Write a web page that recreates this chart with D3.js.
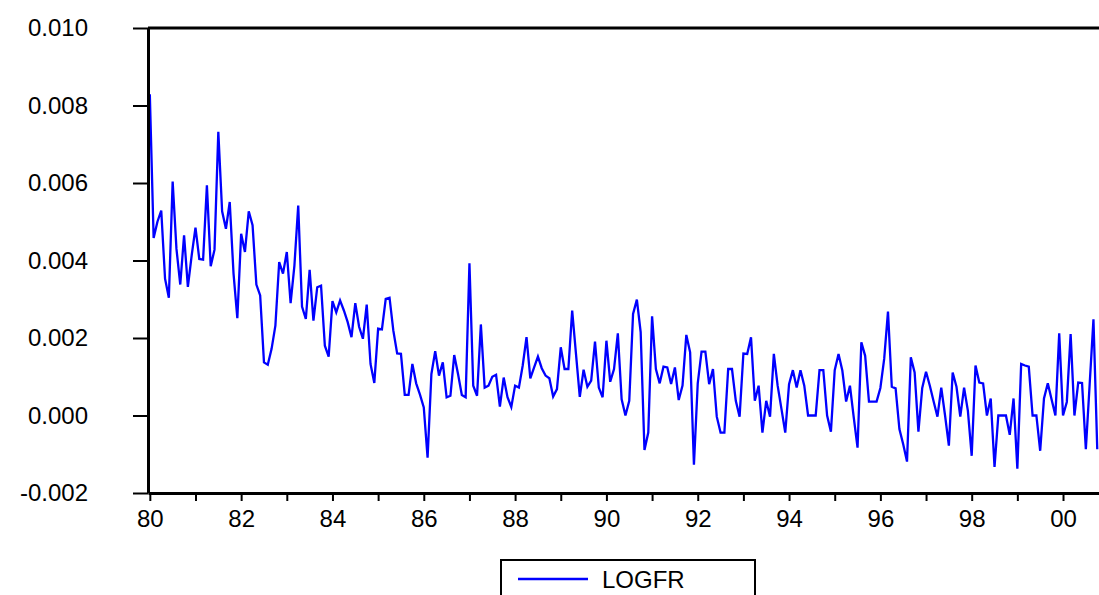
<!DOCTYPE html>
<html>
<head>
<meta charset="utf-8">
<script src="https://cdn.jsdelivr.net/npm/d3@7"></script>
<style>
  body { margin: 0; background: #fff; }
  svg { display: block; font-family: "Liberation Sans", Arial, sans-serif; }
</style>
</head>
<body>
<div id="chart-area"></div>
<script>
// monthly series, starting January 1980
let startYear = 1980;
let seriesName = "LOGFR";
let logfr = [
  0.00829, 0.00458, 0.00500, 0.00529, 0.00353, 0.00304, 0.00604, 0.00430, 0.00338, 0.00465, 0.00332, 0.00413,
  0.00485, 0.00404, 0.00402, 0.00594, 0.00385, 0.00428, 0.00732, 0.00527, 0.00482, 0.00551, 0.00366, 0.00251,
  0.00469, 0.00422, 0.00527, 0.00491, 0.00338, 0.00310, 0.00137, 0.00131, 0.00172, 0.00232, 0.00396, 0.00366,
  0.00422, 0.00290, 0.00387, 0.00542, 0.00281, 0.00249, 0.00376, 0.00245, 0.00331, 0.00335, 0.00180, 0.00152,
  0.00295, 0.00266, 0.00297, 0.00271, 0.00241, 0.00202, 0.00290, 0.00229, 0.00198, 0.00286, 0.00133, 0.00084,
  0.00224, 0.00222, 0.00301, 0.00304, 0.00219, 0.00160, 0.00159, 0.00053, 0.00053, 0.00133, 0.00083, 0.00054,
  0.00021, -0.00109, 0.00107, 0.00166, 0.00103, 0.00137, 0.00047, 0.00051, 0.00156, 0.00107, 0.00053, 0.00047,
  0.00393, 0.00077, 0.00051, 0.00235, 0.00072, 0.00077, 0.00100, 0.00105, 0.00023, 0.00098, 0.00047, 0.00022,
  0.00077, 0.00072, 0.00129, 0.00202, 0.00096, 0.00124, 0.00152, 0.00122, 0.00103, 0.00096, 0.00049, 0.00068,
  0.00176, 0.00120, 0.00120, 0.00271, 0.00159, 0.00048, 0.00118, 0.00074, 0.00090, 0.00191, 0.00072, 0.00047,
  0.00193, 0.00087, 0.00120, 0.00212, 0.00042, 0.00000, 0.00038, 0.00262, 0.00299, 0.00215, -0.00089, -0.00044,
  0.00256, 0.00120, 0.00083, 0.00126, 0.00124, 0.00081, 0.00124, 0.00040, 0.00077, 0.00208, 0.00163, -0.00127,
  0.00083, 0.00165, 0.00165, 0.00081, 0.00120, -0.00003, -0.00044, -0.00044, 0.00120, 0.00120, 0.00038, -0.00003,
  0.00160, 0.00159, 0.00202, 0.00038, 0.00077, -0.00044, 0.00038, -0.00003, 0.00159, 0.00077, 0.00017, -0.00044,
  0.00081, 0.00117, 0.00072, 0.00117, 0.00077, 0.00000, 0.00000, 0.00000, 0.00117, 0.00117, 0.00000, -0.00042,
  0.00117, 0.00159, 0.00116, 0.00036, 0.00077, -0.00005, -0.00083, 0.00189, 0.00154, 0.00036, 0.00036, 0.00036,
  0.00071, 0.00146, 0.00268, 0.00074, 0.00070, -0.00035, -0.00074, -0.00119, 0.00150, 0.00111, -0.00042, 0.00071,
  0.00113, 0.00077, 0.00036, -0.00003, 0.00072, 0.00000, -0.00078, 0.00111, 0.00074, -0.00003, 0.00072, 0.00012,
  -0.00104, 0.00129, 0.00085, 0.00083, 0.00000, 0.00044, -0.00133, 0.00000, 0.00000, 0.00000, -0.00050, 0.00044,
  -0.00137, 0.00133, 0.00129, 0.00126, 0.00000, 0.00000, -0.00091, 0.00044, 0.00083, 0.00041, 0.00000, 0.00212,
  0.00000, 0.00035, 0.00210, 0.00000, 0.00085, 0.00084, -0.00087, 0.00080, 0.00248, -0.00087
];
let yTicks = [-0.002, 0.000, 0.002, 0.004, 0.006, 0.008, 0.010];
let xTicks = d3.range(1980, 2001);

let margin = {top: 28, right: 0, bottom: 102, left: 148},
  width = 1100 - margin.left,
  height = 595 - margin.top - margin.bottom;

let data = logfr.map(function(v, i) {
  return {t: startYear + i / 12, value: v};
});

let svg = d3
  .select("#chart-area")
  .append("svg")
  .attr("width", 1099)
  .attr("height", 595);

let g = svg.append("g")
  .attr("transform", "translate(" + margin.left + "," + margin.top + ")");

let x = d3.scaleLinear()
  .domain([1979.96, 2000.81])
  .range([0, width]);

let y = d3.scaleLinear()
  .domain([-0.002, 0.010])
  .range([height, 0]);

let xAxis = d3.axisBottom(x)
  .tickValues(xTicks)
  .tickSize(8)
  .tickSizeOuter(0)
  .tickPadding(9)
  .tickFormat(function(d) { return d % 2 == 0 ? String(d).slice(2) : ""; });

// plain hyphen for negatives, like the original
let yAxis = d3.axisLeft(y)
  .tickValues(yTicks)
  .tickSize(15)
  .tickSizeOuter(0)
  .tickPadding(45)
  .tickFormat(function(d) { return d.toFixed(3); });

// top border
g.append("line")
  .attr("x1", 0).attr("x2", width)
  .attr("y1", 0).attr("y2", 0)
  .attr("stroke", "#000")
  .attr("stroke-width", 3);

let line = d3.line()
  .x(function(d) { return x(d.t); })
  .y(function(d) { return y(d.value); });

g.append("path")
  .datum(data)
  .attr("fill", "none")
  .attr("stroke", "#0000ff")
  .attr("stroke-width", 2.3)
  .attr("stroke-linejoin", "miter")
  .attr("d", line);

let xAxisGroup = g.append("g")
  .attr("class", "x-axis axis")
  .attr("transform", "translate(0," + height + ")")
  .call(xAxis);

let yAxisGroup = g.append("g")
  .attr("class", "y-axis axis")
  .call(yAxis);

svg.selectAll(".axis .domain").attr("stroke-width", 3);
svg.selectAll(".axis .tick line").attr("stroke-width", 2);
svg.selectAll(".axis text")
  .attr("fill", "#000")
  .style("font-size", "24px")
  .style("font-family", "'Liberation Sans', Arial, sans-serif");

// legend
let legend = svg.append("g").attr("transform", "translate(501,560)");
legend.append("rect")
  .attr("width", 254)
  .attr("height", 60)
  .attr("fill", "#fff")
  .attr("stroke", "#000")
  .attr("stroke-width", 2);
legend.append("line")
  .attr("x1", 17).attr("x2", 87)
  .attr("y1", 19).attr("y2", 19)
  .attr("stroke", "#0000ff")
  .attr("stroke-width", 2.3);
legend.append("text")
  .attr("x", 101)
  .attr("y", 19)
  .attr("dy", "0.36em")
  .style("font-size", "24px")
  .text(seriesName);
</script>
</body>
</html>
